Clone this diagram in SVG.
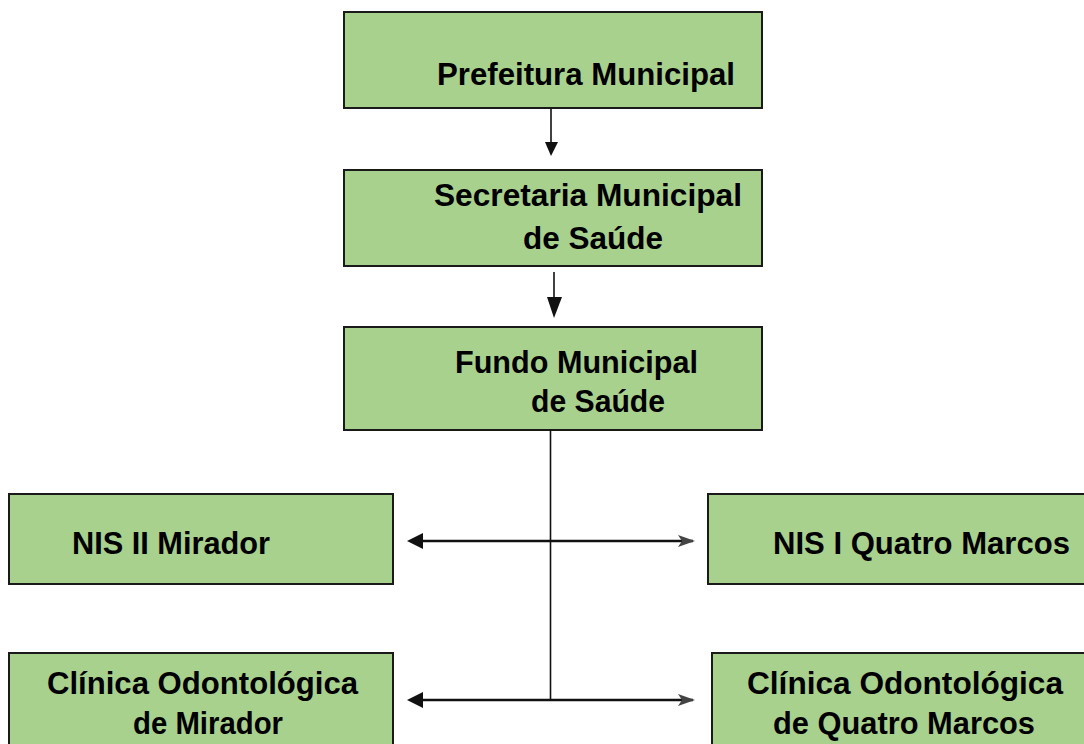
<svg xmlns="http://www.w3.org/2000/svg" width="1084" height="744" viewBox="0 0 1084 744">
<style>
.box{fill:#a9d18e;stroke:#1a1a1a;stroke-width:2}
.t{font-family:"Liberation Sans",Arial,sans-serif;font-weight:bold;font-size:31px;fill:#000000}
.ln{stroke:#111;fill:none}
.hd{fill:#111}
.fd{fill:#444}
</style>
<rect width="1084" height="744" fill="#ffffff"/>
<g id="prefeitura">
<rect class="box" x="344" y="12" width="418" height="96"/>
<text class="t" x="437" y="85" textLength="298" lengthAdjust="spacingAndGlyphs">Prefeitura Municipal</text>
</g>
<g id="secretaria">
<rect class="box" x="344" y="170" width="418" height="96"/>
<text class="t" x="434" y="206" textLength="308" lengthAdjust="spacingAndGlyphs">Secretaria Municipal</text>
<text class="t" x="523" y="249" textLength="140" lengthAdjust="spacingAndGlyphs">de Saúde</text>
</g>
<g id="fundo">
<rect class="box" x="344" y="327" width="418" height="103"/>
<text class="t" x="455" y="373" textLength="243" lengthAdjust="spacingAndGlyphs">Fundo Municipal</text>
<text class="t" x="531" y="412" textLength="134" lengthAdjust="spacingAndGlyphs">de Saúde</text>
</g>
<g id="nis-mirador">
<rect class="box" x="9" y="494" width="384" height="90"/>
<text class="t" x="72" y="554" textLength="198" lengthAdjust="spacingAndGlyphs">NIS II Mirador</text>
</g>
<g id="nis-quatro-marcos">
<rect class="box" x="708" y="494" width="390" height="90"/>
<text class="t" x="773" y="554" textLength="297" lengthAdjust="spacingAndGlyphs">NIS I Quatro Marcos</text>
</g>
<g id="clinica-mirador">
<rect class="box" x="9" y="653" width="384" height="100"/>
<text class="t" x="47" y="694" textLength="311" lengthAdjust="spacingAndGlyphs">Clínica Odontológica</text>
<text class="t" x="133" y="734" textLength="150" lengthAdjust="spacingAndGlyphs">de Mirador</text>
</g>
<g id="clinica-quatro-marcos">
<rect class="box" x="712" y="653" width="386" height="100"/>
<text class="t" x="747" y="694" textLength="316" lengthAdjust="spacingAndGlyphs">Clínica Odontológica</text>
<text class="t" x="773" y="734" textLength="262" lengthAdjust="spacingAndGlyphs">de Quatro Marcos</text>
</g>
<g id="connectors">
<line class="ln" x1="551" y1="109" x2="551" y2="144" stroke-width="1.6"/>
<polygon class="hd" points="545,142 558,142 551,156"/>
<line class="ln" x1="554" y1="272" x2="554" y2="299" stroke-width="1.6"/>
<polygon class="hd" points="547,297 562,297 554,318"/>
<line class="ln" x1="550.5" y1="430" x2="550.5" y2="700" stroke-width="1.6"/>
<line class="ln" x1="415" y1="541" x2="693" y2="541" stroke-width="2.6"/>
<polygon class="hd" points="407,541 423,533 423,549"/>
<polygon class="fd" points="695,541 678,535 682,541 678,547"/>
<line class="ln" x1="415" y1="700" x2="693" y2="700" stroke-width="2.6"/>
<polygon class="hd" points="407,700 423,692 423,708"/>
<polygon class="fd" points="695,700 678,694 682,700 678,706"/>
</g>
</svg>
